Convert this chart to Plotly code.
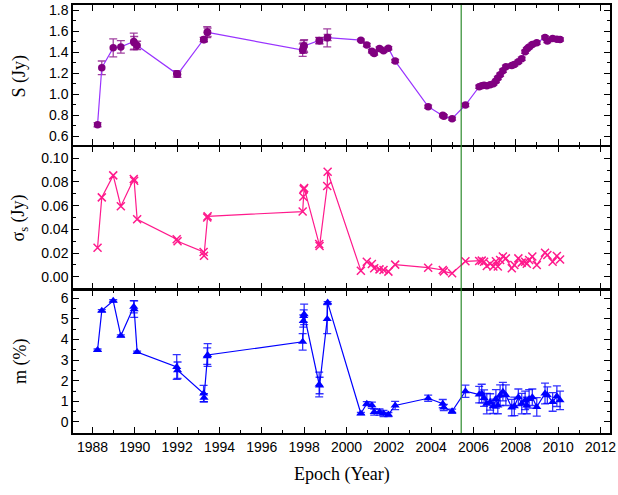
"""
plot.py
Flux density S, its rms sigma_s and modulation index m versus epoch,
three stacked panels sharing the time axis.
"""

import plotly.graph_objects as go

# ── data ─────────────────────────────────────────────────────────
epoch = [
    1988.24, 1988.44, 1988.98, 1989.34, 1989.95, 1989.97, 1990.11,
    1991.98, 1992.02, 1993.25, 1993.27, 1993.42, 1993.44,
    1997.93, 1997.96, 1997.98, 1998.00, 1998.71, 1998.73, 1999.09, 1999.11,
    2000.68, 2000.96, 2001.20, 2001.31, 2001.56, 2001.75, 2001.98, 2002.30,
    2003.86, 2004.55, 2004.60, 2004.99, 2005.62,
    2006.27, 2006.39, 2006.50, 2006.63, 2006.79, 2006.94, 2007.06, 2007.15,
    2007.26, 2007.39, 2007.53, 2007.81, 2007.93, 2008.12, 2008.28, 2008.44,
    2008.52, 2008.63, 2008.78, 2008.99, 2009.38, 2009.49, 2009.74, 2009.94,
    2010.09,
]

flux = [
    0.711, 1.252, 1.442, 1.451, 1.503, 1.490, 1.465,
    1.195, 1.190, 1.522, 1.520, 1.591, 1.590,
    1.420, 1.440, 1.460, 1.460, 1.512, 1.510, 1.537, 1.540,
    1.515, 1.470, 1.410, 1.389, 1.436, 1.414, 1.439, 1.316,
    0.882, 0.800, 0.790, 0.768, 0.898,
    1.072, 1.082, 1.085, 1.081, 1.090, 1.100, 1.126, 1.154,
    1.186, 1.224, 1.262, 1.275, 1.284, 1.309, 1.338, 1.404,
    1.430, 1.451, 1.474, 1.490, 1.540, 1.508, 1.531, 1.525,
    1.522,
]

flux_err = [
    0.020, 0.065, 0.085, 0.060, 0.080, 0.060, 0.040,
    0.030, 0.030, 0.020, 0.020, 0.052, 0.040,
    0.060, 0.050, 0.050, 0.060, 0.030, 0.030, 0.085, 0.030,
    0.010, 0.015, 0.015, 0.015, 0.015, 0.015, 0.015, 0.015,
    0.015, 0.015, 0.015, 0.015, 0.015,
    0.015, 0.015, 0.015, 0.015, 0.015, 0.015, 0.015, 0.015,
    0.015, 0.015, 0.015, 0.015, 0.015, 0.015, 0.015, 0.015,
    0.015, 0.015, 0.015, 0.015, 0.015, 0.015, 0.015, 0.015,
    0.015,
]

sigma = [
    0.0245, 0.0670, 0.0856, 0.0595, 0.0825, 0.0810, 0.0485,
    0.0316, 0.0300, 0.0209, 0.0177, 0.0500, 0.0510,
    0.0550, 0.0675, 0.0740, 0.0750, 0.0276, 0.0260, 0.0766, 0.0887,
    0.0051, 0.0127, 0.0107, 0.0071, 0.0062, 0.0057, 0.0043, 0.0102,
    0.0076, 0.0057, 0.0045, 0.0029, 0.0130,
    0.0133, 0.0136, 0.0127, 0.0090, 0.0110, 0.0086, 0.0130, 0.0086,
    0.0141, 0.0170, 0.0155, 0.0071, 0.0099, 0.0155, 0.0119, 0.0127,
    0.0110, 0.0141, 0.0170, 0.0099, 0.0203, 0.0183, 0.0127, 0.0175,
    0.0146,
]

mod_index = [
    3.49, 5.40, 5.88, 4.18, 5.59, 5.47, 3.39,
    2.67, 2.51, 1.38, 1.18, 3.19, 3.25,
    3.89, 4.90, 5.14, 5.22, 1.82, 1.77, 4.99, 5.79,
    0.41, 0.89, 0.81, 0.48, 0.48, 0.41, 0.36, 0.80,
    1.15, 0.89, 0.70, 0.52, 1.49,
    1.33, 1.38, 1.16, 0.89, 0.97, 0.76, 1.12, 0.80,
    1.30, 1.47, 1.30, 0.70, 0.76, 1.20, 0.89, 1.05,
    0.80, 1.12, 1.20, 0.73, 1.38, 1.30, 0.97, 1.25,
    1.05,
]

mod_err = [
    0.05, 0.05, 0.05, 0.05, 0.30, 0.40, 0.05,
    0.60, 0.40, 0.40, 0.20, 0.40, 0.55,
    0.40, 0.30, 0.30, 0.50, 0.60, 0.40, 0.70, 0.05,
    0.05, 0.10, 0.15, 0.15, 0.15, 0.15, 0.10, 0.20,
    0.15, 0.20, 0.15, 0.10, 0.30,
    0.40, 0.45, 0.40, 0.50, 0.40, 0.35, 0.45, 0.40,
    0.50, 0.45, 0.50, 0.40, 0.45, 0.40, 0.50, 0.45,
    0.40, 0.45, 0.40, 0.45, 0.50, 0.40, 0.45, 0.50,
    0.45,
]

VLINE_YEAR = 2005.42
X_RANGE = [1987.08, 2012.45]

SANS  = "Liberation Sans, Arial, sans-serif"
SERIF = "Liberation Serif, Times New Roman, serif"

# ── traces ───────────────────────────────────────────────────────
fig = go.Figure()

fig.add_trace(go.Scatter(
    x=epoch, y=flux, xaxis="x", yaxis="y", mode="lines+markers",
    line=dict(color="#9933FF", width=1.2),
    marker=dict(symbol="circle", size=7.5, color="#800080"),
    error_y=dict(type="data", array=flux_err, color="rgba(128,0,128,0.75)",
                 thickness=1.3, width=4),
))

fig.add_trace(go.Scatter(
    x=epoch, y=sigma, xaxis="x2", yaxis="y2", mode="lines+markers",
    line=dict(color="#FF1A8C", width=1.2),
    marker=dict(symbol="x-thin", size=8, color="#FF1A8C",
                line=dict(color="#FF1A8C", width=1.5)),
))

fig.add_trace(go.Scatter(
    x=epoch, y=mod_index, xaxis="x3", yaxis="y3", mode="lines+markers",
    line=dict(color="#0000FF", width=1.2),
    marker=dict(symbol="triangle-up", size=8, color="#0000FF"),
    error_y=dict(type="data", array=mod_err, color="rgba(0,0,255,0.8)",
                 thickness=1.3, width=4),
))

# ── axes ─────────────────────────────────────────────────────────
def axis(**kw):
    base = dict(
        showline=True, linecolor="black", linewidth=1.5, mirror="ticks",
        ticks="inside", ticklen=6, tickwidth=1.2, tickcolor="black",
        showgrid=False, zeroline=False, automargin=False,
        tickfont=dict(family=SANS, size=14, color="black"),
    )
    base.update(kw)
    return base


def minor(step):
    return dict(ticks="inside", ticklen=3, tickwidth=1.2,
                tickcolor="black", dtick=step, showgrid=False)


# panels are split by a 1.5 px gap so the two spine lines fall on one row
fig.update_layout(
    xaxis=axis(anchor="y", range=X_RANGE, tick0=1988, dtick=2,
               minor=minor(1), showticklabels=False),
    xaxis2=axis(anchor="y2", range=X_RANGE, tick0=1988, dtick=2,
                minor=minor(1), showticklabels=False),
    xaxis3=axis(anchor="y3", range=X_RANGE, tick0=1988, dtick=2,
                minor=minor(1)),
    yaxis=axis(anchor="x", domain=[0.6724, 1.0], range=[0.515, 1.85],
               dtick=0.2, tickformat=".1f", minor=minor(0.1)),
    yaxis2=axis(anchor="x2", domain=[0.3375, 0.6689],
                range=[-0.0100, 0.1098], dtick=0.02, tickformat=".2f",
                minor=minor(0.01)),
    yaxis3=axis(anchor="x3", domain=[0.0, 0.3340], range=[-0.535, 6.40],
                dtick=1, minor=minor(0.5)),
)

# green marker line across all panels
fig.add_shape(type="line", xref="x", yref="paper",
              x0=VLINE_YEAR, x1=VLINE_YEAR, y0=0, y1=1,
              line=dict(color="#2E8B2E", width=1.2))

# axis titles as annotations so the three y titles line up
title_font = dict(family=SERIF, size=18, color="black")
for text, yc in [("S (Jy)", 0.835), ("σ<sub>s</sub> (Jy)", 0.503),
                 ("m (%)", 0.168)]:
    fig.add_annotation(text=text, xref="paper", yref="paper",
                       x=-0.099, y=yc, xanchor="center", yanchor="middle",
                       textangle=-90, showarrow=False, font=title_font)

fig.add_annotation(text="Epoch (Year)", xref="paper", yref="paper",
                   x=0.5, y=-0.098, xanchor="center", yanchor="middle",
                   showarrow=False, font=title_font)

fig.update_layout(
    width=618, height=495,
    margin=dict(l=73, r=8, t=5, b=62),
    plot_bgcolor="white", paper_bgcolor="white",
    showlegend=False,
)

# page body has an 8px default margin; drop it so the figure sits at 0,0
fig.write_html("out.html",
               config={"displayModeBar": False},
               post_script="document.body.style.margin='0';")
